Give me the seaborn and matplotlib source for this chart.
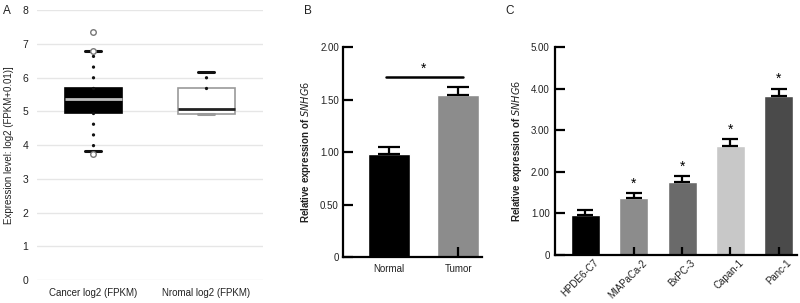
import matplotlib
matplotlib.use("Agg")
import matplotlib.pyplot as plt
import matplotlib.transforms as mtransforms
import seaborn as sns
import pandas as pd

sns.set_theme(style="white")
plt.rcParams['font.family'] = ['Liberation Sans', 'DejaVu Sans']

# ---- Panel A data (box plot summary) ----
box_labels = ["Cancer log2 (FPKM)", "Nromal log2 (FPKM)"]
box_q1 = [4.95, 4.92]
box_med = [5.35, 5.07]
box_q3 = [5.70, 5.70]
box_whislo = [3.82, 4.92]
box_whishi = [6.80, 6.15]
box_fliers = [[7.35, 6.80, 3.72], []]
box_faces = ["#000000", "#ffffff"]
box_edges = ["#000000", "#9a9a9a"]
box_medcolors = ["#bdbdbd", "#222222"]
box_lowcap_colors = ["#111111", "#9a9a9a"]

# ---- Panel B data ----
b_cats = ["Normal", "Tumor"]
b_vals = [0.98, 1.54]
b_errs = [0.07, 0.08]
b_stub = [0.10, 0.10]
b_colors = ["#000000", "#8c8c8c"]

# ---- Panel C data ----
c_cats = ["HPDE6-C7", "MIAPaCa-2", "BxPC-3", "Capan-1", "Panc-1"]
c_vals = [0.97, 1.37, 1.75, 2.61, 3.82]
c_errs = [0.10, 0.11, 0.15, 0.17, 0.18]
c_stub = [0.20, 0.20, 0.20, 0.20, 0.20]
c_colors = ["#000000", "#8c8c8c", "#6a6a6a", "#c8c8c8", "#4a4a4a"]
c_star = [False, True, True, True, True]

TXT = "#222222"
fig = plt.figure(figsize=(8.0, 3.03), dpi=100)

# ================= Panel A =================
axA = fig.add_axes([0.046, 0.0759, 0.2825, 0.891])
for i in range(len(box_labels)):
    st = dict(label=box_labels[i], q1=box_q1[i], med=box_med[i], q3=box_q3[i],
              whislo=box_whislo[i], whishi=box_whishi[i], fliers=box_fliers[i])
    art = axA.bxp([st], positions=[i], widths=0.5, patch_artist=True, showfliers=True,
                  boxprops=dict(facecolor=box_faces[i], edgecolor=box_edges[i], linewidth=1.2),
                  medianprops=dict(color=box_medcolors[i], linewidth=2),
                  whiskerprops=dict(color="#111111", linewidth=2.4, linestyle=(0, (0.01, 3.2)),
                                    dash_capstyle="round"),
                  capprops=dict(color="#111111", linewidth=2.2),
                  capwidths=0.14,
                  flierprops=dict(marker="o", markersize=4, markerfacecolor="white",
                                  markeredgecolor="#777777", markeredgewidth=1.0))
    art["caps"][0].set_color(box_lowcap_colors[i])
axA.set_xlim(-0.5, 1.5)
axA.set_ylim(0, 8)
axA.set_yticks(range(0, 9))
axA.yaxis.grid(True, color="#e6e6e6", linewidth=1)
axA.set_axisbelow(True)
for s in axA.spines.values():
    s.set_visible(False)
axA.tick_params(axis="both", length=0, labelsize=7.5, labelcolor=TXT, pad=6)
axA.set_xticks([0, 1])
axA.set_xticklabels(box_labels, fontsize=7)
axA.set_ylabel("Expression level: log2 (FPKM+0.01)]", fontsize=7, color=TXT, labelpad=6)
fig.text(0.004, 0.955, "A", fontsize=8.5, color=TXT)

# ================= Panel B =================
axB = fig.add_axes([0.4288, 0.1518, 0.174, 0.693])
dfB = pd.DataFrame({"cat": b_cats, "val": b_vals})
sns.barplot(data=dfB, x="cat", y="val", hue="cat", palette=b_colors, width=0.61,
            legend=False, ax=axB, saturation=1)
axB.errorbar(range(len(b_cats)), b_vals, yerr=[[0] * len(b_errs), b_errs], fmt="none",
             ecolor="black", elinewidth=1.6, capsize=8, capthick=1.6)
axB.vlines(range(len(b_cats)), 0, b_stub, color="black", linewidth=1.6)
axB.set_xlim(-0.67, 1.35)
axB.set_ylim(0, 2.0)
axB.set_yticks([0, 0.5, 1.0, 1.5, 2.0])
axB.set_yticklabels(["0", "0.50", "1.00", "1.50", "2.00"])
axB.plot([-0.05, 1.07], [1.714, 1.714], color="black", linewidth=1.8, clip_on=False)
axB.text(0.5, 1.73, "*", ha="center", va="bottom", fontsize=10, color="black")
for side in ["top", "right"]:
    axB.spines[side].set_visible(False)
for side in ["left", "bottom"]:
    axB.spines[side].set_linewidth(1.6)
    axB.spines[side].set_color("black")
axB.tick_params(axis="y", direction="in", length=7.5, width=1.6, labelsize=7, color="black",
                labelcolor=TXT, left=True, pad=3)
axB.tick_params(axis="x", length=0, labelsize=7, labelcolor=TXT, pad=5)
axB.set_xlabel("")
axB.set_ylabel("Relative expression of $\\mathit{SNHG6}$", fontsize=7, fontweight="bold",
               color=TXT, labelpad=5)
fig.text(0.380, 0.955, "B", fontsize=8.5, color=TXT)

# ================= Panel C =================
axC = fig.add_axes([0.694, 0.1584, 0.302, 0.6865])
dfC = pd.DataFrame({"cat": c_cats, "val": c_vals})
sns.barplot(data=dfC, x="cat", y="val", hue="cat", palette=c_colors, width=0.6,
            legend=False, ax=axC, saturation=1)
axC.errorbar(range(len(c_cats)), c_vals, yerr=[[0] * len(c_errs), c_errs], fmt="none",
             ecolor="black", elinewidth=1.6, capsize=6, capthick=1.6)
axC.vlines(range(len(c_cats)), 0, c_stub, color="black", linewidth=1.6)
for i, (v, e, s) in enumerate(zip(c_vals, c_errs, c_star)):
    if s:
        axC.text(i, v + e + 0.06, "*", ha="center", va="bottom", fontsize=10, color="black")
axC.set_xlim(-0.625, 4.375)
axC.set_ylim(0, 5.0)
axC.set_yticks([0, 1, 2, 3, 4, 5])
axC.set_yticklabels(["0", "1.00", "2.00", "3.00", "4.00", "5.00"])
for side in ["top", "right"]:
    axC.spines[side].set_visible(False)
for side in ["left", "bottom"]:
    axC.spines[side].set_linewidth(1.6)
    axC.spines[side].set_color("black")
axC.tick_params(axis="y", direction="in", length=7.5, width=1.6, labelsize=7, color="black",
                labelcolor=TXT, left=True, pad=4)
axC.tick_params(axis="x", length=0, labelsize=7, labelcolor=TXT, pad=2)
offset = mtransforms.ScaledTranslation(8 / 100, 0, fig.dpi_scale_trans)
for lab in axC.get_xticklabels():
    lab.set_rotation(45)
    lab.set_ha("right")
    lab.set_rotation_mode("anchor")
    lab.set_transform(lab.get_transform() + offset)
axC.set_xlabel("")
axC.set_ylabel("Relative expression of $\\mathit{SNHG6}$", fontsize=7, fontweight="bold",
               color=TXT, labelpad=5)
fig.text(0.632, 0.955, "C", fontsize=8.5, color=TXT)

fig.savefig("out.png", dpi=100)
